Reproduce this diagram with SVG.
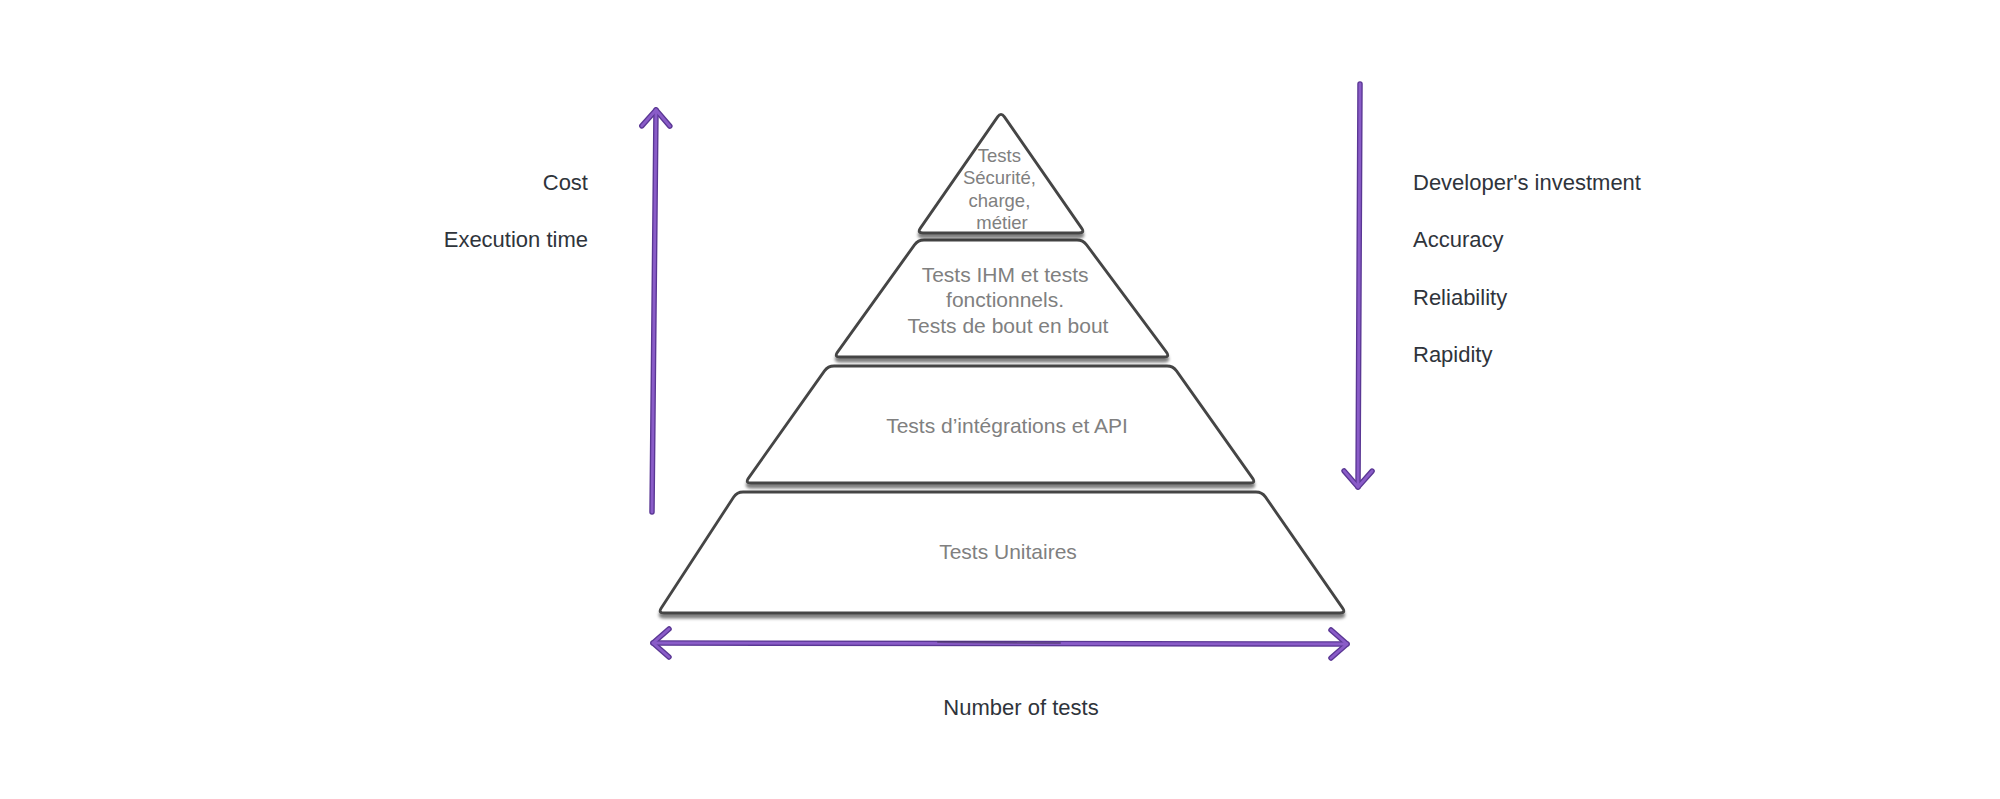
<svg xmlns="http://www.w3.org/2000/svg" width="2000" height="799" viewBox="0 0 2000 799">
  <style>
    .level { fill: #ffffff; stroke: #444444; stroke-width: 2.8; stroke-linejoin: round; filter: url(#shadow); }
    .ptext { font-family: "Liberation Sans", Arial, sans-serif; fill: #808080; text-anchor: middle; }
    .label { font-family: "Liberation Sans", Arial, sans-serif; font-size: 22px; fill: #2f343b; }
    .a-out { fill: none; stroke: #5a3794; stroke-width: 5.5; stroke-linecap: round; stroke-linejoin: round; }
    .a-in { fill: none; stroke: #8a5cc8; stroke-width: 2.8; stroke-linecap: round; stroke-linejoin: round; }
  </style>
  <defs>
    <filter id="shadow" x="-5%" y="-5%" width="110%" height="125%">
      <feDropShadow dx="0" dy="4" stdDeviation="1.8" flood-color="#000000" flood-opacity="0.5"/>
    </filter>
    <marker id="mo" markerUnits="userSpaceOnUse" viewBox="-22 -20 28 40" markerWidth="28" markerHeight="40" refX="0" refY="0" orient="auto-start-reverse">
      <path d="M -16 -14 L 0 0 L -16 14" fill="none" stroke="#5a3794" stroke-width="5.5" stroke-linecap="round" stroke-linejoin="round"/>
    </marker>
    <marker id="mi" markerUnits="userSpaceOnUse" viewBox="-22 -20 28 40" markerWidth="28" markerHeight="40" refX="0" refY="0" orient="auto-start-reverse">
      <path d="M -16 -14 L 0 0 L -16 14" fill="none" stroke="#8a5cc8" stroke-width="2.8" stroke-linecap="round" stroke-linejoin="round"/>
    </marker>
  </defs>
  <rect width="2000" height="799" fill="#ffffff"/>

  <g id="level-unit">
    <path class="level" d="M 743,492 L 1256,492 Q 1262,492 1265.4,496.9 L 1342.6,608.1 Q 1346,613 1340,613 L 664,613 Q 658,613 661.3,608 L 733.7,497 Q 737,492 743,492 Z"/>
    <text class="ptext" x="1008" y="559" font-size="21">Tests Unitaires</text>
  </g>
  <g id="level-integration">
    <path class="level" d="M 834,366 L 1167,366 Q 1173,366 1176.5,370.9 L 1252.5,478.1 Q 1256,483 1250,483 L 751,483 Q 745,483 748.5,478.1 L 824.5,370.9 Q 828,366 834,366 Z"/>
    <text class="ptext" x="1007" y="433" font-size="21">Tests d’intégrations et API</text>
  </g>
  <g id="level-ihm">
    <path class="level" d="M 924,240 L 1077,240 Q 1083,240 1086.6,244.8 L 1166.4,352.2 Q 1170,357 1164,357 L 840,357 Q 834,357 837.5,352.1 L 914.5,244.9 Q 918,240 924,240 Z"/>
    <text class="ptext" font-size="21">
      <tspan x="1008" y="282">Tests IHM et tests</tspan>
      <tspan x="1008" y="307">fonctionnels.</tspan>
      <tspan x="1008" y="333">Tests de bout en bout</tspan>
    </text>
  </g>
  <g id="level-top">
    <path class="level" d="M 997.6,116.9 Q 1001,112 1004.4,116.9 L 1081.6,228.1 Q 1085,233 1079,233 L 923,233 Q 917,233 920.4,228.1 Z"/>
    <text class="ptext" font-size="18.5">
      <tspan x="1002" y="162">Tests</tspan>
      <tspan x="1002" y="184">Sécurité,</tspan>
      <tspan x="1002" y="207">charge,</tspan>
      <tspan x="1002" y="229">métier</tspan>
    </text>
  </g>

  <g id="connectors">
    <g id="arrow-cost">
      <line class="a-out" x1="652" y1="512" x2="656" y2="110" marker-end="url(#mo)"/>
      <line class="a-in" x1="652" y1="512" x2="656" y2="110" marker-end="url(#mi)"/>
    </g>
    <g id="arrow-investment">
      <line class="a-out" x1="1360" y1="84" x2="1358" y2="487" marker-end="url(#mo)"/>
      <line class="a-in" x1="1360" y1="84" x2="1358" y2="487" marker-end="url(#mi)"/>
    </g>
    <g id="arrow-number">
      <line class="a-out" x1="653" y1="643" x2="1347" y2="644" marker-start="url(#mo)" marker-end="url(#mo)"/>
      <line class="a-in" x1="653" y1="643" x2="1347" y2="644" marker-start="url(#mi)" marker-end="url(#mi)"/>
      <line x1="938" y1="642" x2="1060" y2="643" stroke="#3a2f4a" stroke-width="2" stroke-opacity="0.45" stroke-linecap="round"/>
    </g>
  </g>

  <g id="labels-left">
    <text class="label" x="588" y="190" text-anchor="end">Cost</text>
    <text class="label" x="588" y="247" text-anchor="end">Execution time</text>
  </g>
  <g id="labels-right">
    <text class="label" x="1413" y="190">Developer's investment</text>
    <text class="label" x="1413" y="247">Accuracy</text>
    <text class="label" x="1413" y="305">Reliability</text>
    <text class="label" x="1413" y="362">Rapidity</text>
  </g>
  <g id="label-bottom">
    <text class="label" x="1021" y="715" text-anchor="middle">Number of tests</text>
  </g>
</svg>
